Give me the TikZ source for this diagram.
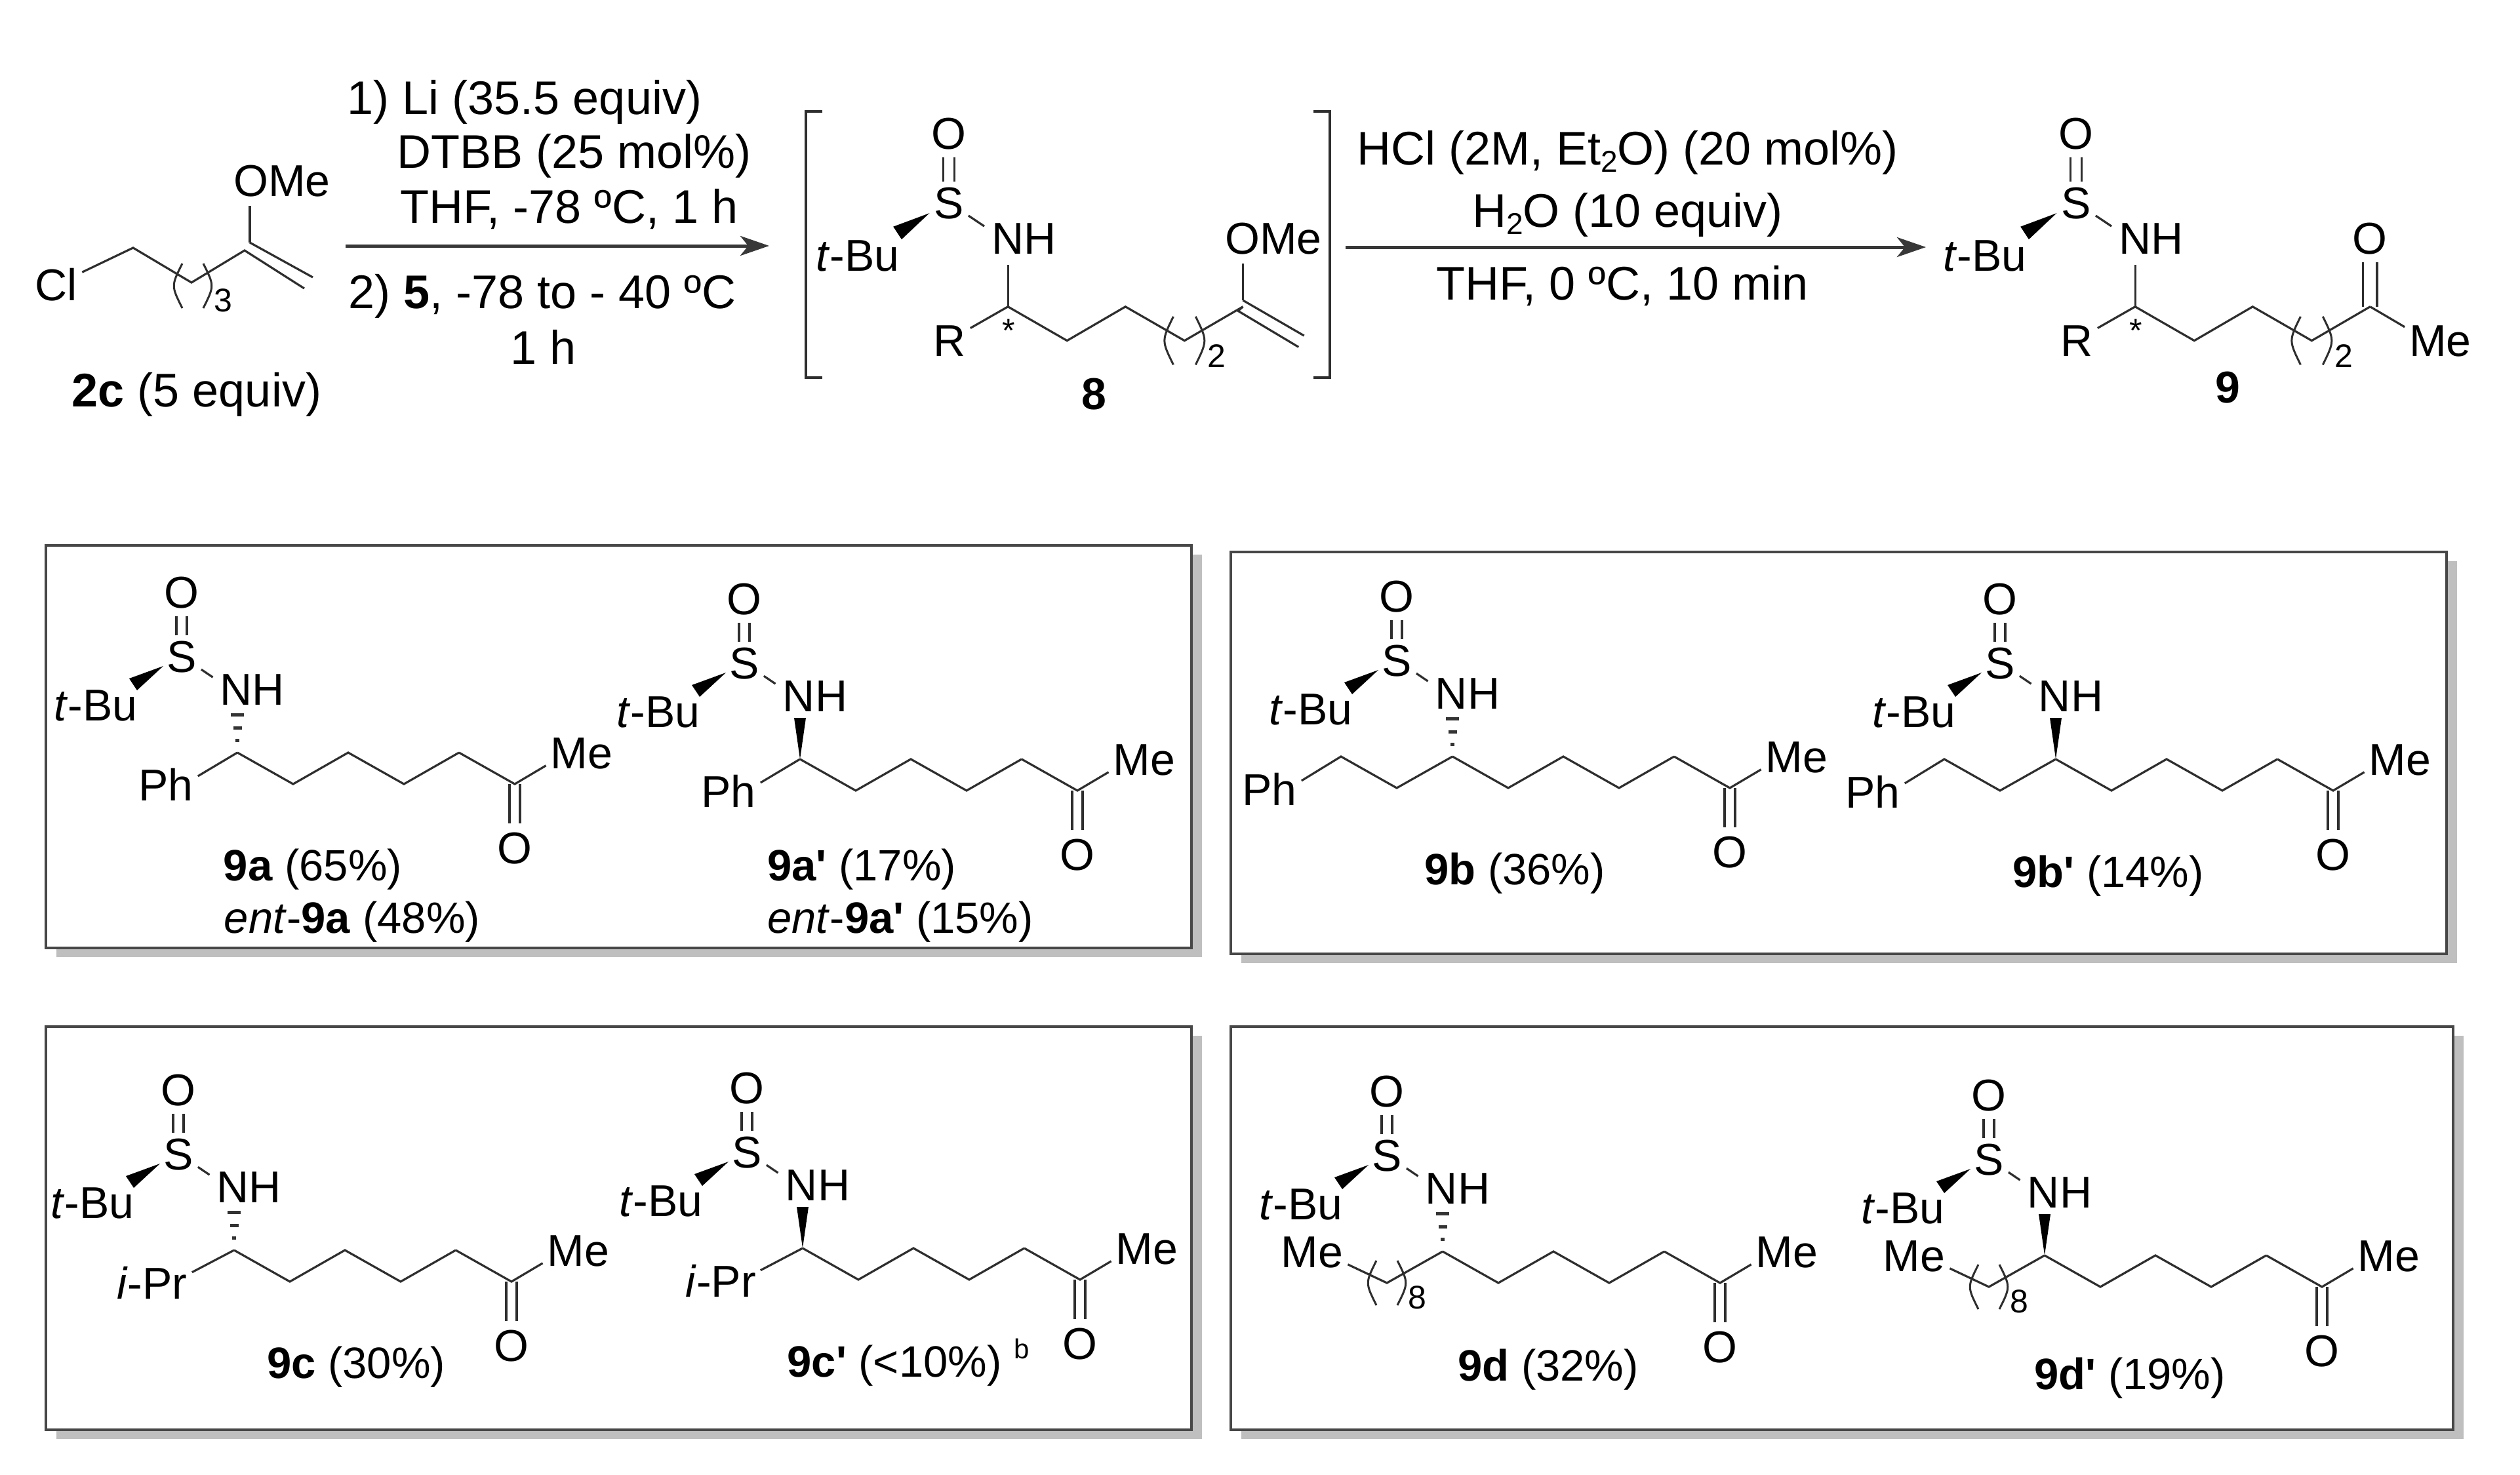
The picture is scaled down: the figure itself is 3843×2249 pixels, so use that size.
\documentclass[tikz,border=0pt]{standalone}
\usepackage{fontspec}
\setmainfont{Liberation Sans}[Ligatures=TeXOff]
\usetikzlibrary{arrows.meta}
\tikzset{
  atom/.style={inner sep=7pt,text height=49pt,text depth=0pt,text=black,font=\fontsize{68}{80}\selectfont},
  oxy/.style={atom,inner sep=12pt},
  reagent/.style={inner sep=0pt,text height=51pt,text depth=0pt,text=black,font=\fontsize{72}{80}\selectfont},
  yieldlab/.style={inner sep=0pt,text height=48pt,text depth=0pt,text=black,font=\fontsize{67}{80}\selectfont},
  subnum/.style={inner sep=0pt,text=black,font=\fontsize{50}{50}\selectfont},
  bond/.style={draw=black!82,line width=3.2pt},
  thin bond/.style={draw=black!82,line width=3pt},
  hashline/.style={draw=black!80,line width=5pt},
  rxn/.style={draw=black!78,line width=5pt,-{Stealth[length=44pt,width=30pt,inset=12pt]}},
  frame/.style={draw=black!72,line width=4.5pt,fill=white},
  frameshadow/.style={fill=black!25}
}
\newcommand{\lowtwo}{\raisebox{-11pt}{\fontsize{46}{50}\selectfont 2}}
\newcommand{\panelframe}[2]{
  \fill[frameshadow] ([shift={(16pt,-14pt)}]#1) rectangle ([shift={(16pt,-14pt)}]#2);
  \draw[frame] (#1) rectangle (#2);
}
% ( )n around a chain vertex
\newcommand{\repeatunit}[2]{
  \begin{scope}[shift={(#1)}]
    \draw[thin bond] (-16,-34) .. controls (-33,0) .. (-16,34);
    \draw[thin bond] (16,-34) .. controls (33,0) .. (16,34);
    \node[subnum] (nsub) at (46,22) {#2};
  \end{scope}
}
% sulfinamide head and the four chain carbons
\newcommand{\sulfhead}{
  \node[atom] (S) at (0,0) {S};
  \node[oxy] (Ox) at (0,-98) {O};
  \node[atom] (tBu) at (-131,74) {\textit{t}-Bu};
  \node[atom] (NH) at (108,50) {NH};
  \coordinate (c0) at (85,147);
  \coordinate (c1) at (170,195);
  \coordinate (c2) at (254,147);
  \coordinate (c3) at (339,195);
  \coordinate (c4) at (423,147);
  \foreach \dx in {-8,8}
    \draw[bond] ([xshift=\dx pt]S.north) -- ([xshift=\dx pt]Ox.south);
  \draw[bond,shorten >=5pt] (S) -- (NH.165);
  \fill[black] (-28,15) -- (-80,34) -- (-68,52) -- cycle;
  \draw[bond] (c0) -- (c1) -- (c2) -- (c3) -- (c4);
}
\newcommand{\hashbond}{
  \foreach \yy/\w in {89/10,109/6.5,128/3}
    \draw[hashline] (85-\w,\yy) -- (85+\w,\yy);
}
\newcommand{\wedgebond}{\fill[black] (c0) -- (76,84) -- (94,84) -- cycle;}
\newcommand{\panelmol}[4]{
  \begin{scope}[shift={(#2)},name prefix=#1-]
    \sulfhead
    \node[atom] (Me) at (610,147) {Me};
    \node[oxy] (Ok) at (508,292) {O};
    \coordinate (c5) at (508,195);
    \draw[bond] (c4) -- (c5) -- (Me.200);
    \foreach \dx in {-8,8}
      \draw[bond] ([xshift=\dx pt]c5) -- ([xshift=\dx pt]Ok.north);
    #3
    #4
  \end{scope}
}
\newcommand{\sidePh}{
  \node[atom] (Ph) at (-24,196) {Ph};
  \draw[bond] (c0) -- (Ph.15);
}
\newcommand{\sideBn}{
  \node[atom] (Ph) at (-194,197) {Ph};
  \coordinate (b1) at (0,195);
  \coordinate (b2) at (-85,147);
  \draw[bond] (c0) -- (b1) -- (b2) -- (Ph.15);
}
\newcommand{\sideiPr}{
  \node[atom] (iPr) at (-40,197) {\textit{i}-Pr};
  \draw[bond] (c0) -- (iPr.15);
}
\newcommand{\sideAlk}{
  \node[atom] (Mel) at (-114,147) {Me};
  \coordinate (b1) at (0,195);
  \draw[bond] (c0) -- (b1) -- (Mel.-20);
  \repeatunit{0,195}{8}
}
\begin{document}
\begin{tikzpicture}[x=1pt,y=-1pt]
\useasboundingbox (0,0) rectangle (3843,2249);
\fill[white] (0,0) rectangle (3843,2249);

% chloride 2c
\node[atom] (Cl) at (86,434) {Cl};
\node[atom] (OMea) at (430,275) {OMe};
\coordinate (ca) at (203,378);
\coordinate (cb) at (292,431);
\coordinate (cc) at (373,382);
\coordinate (cd) at (381,370);
\coordinate (ce) at (477,423);
\coordinate (cf) at (464,440);
\draw[bond] (Cl) -- (ca) -- (cb) -- (cc) -- (cf);
\draw[bond] (cd) -- (ce);
\draw[bond,shorten >=7pt] (cd) -- (cd |- OMea.south);
\repeatunit{294,436}{3}
\node[reagent] (lab2c) at (300,595) {\textbf{2c} (5 equiv)};

% first arrow
\coordinate (arra) at (527,375);
\coordinate (arrb) at (1173,375);
\draw[rxn] (arra) -- (arrb);
\node[reagent] (ra) at (800,149) {1) Li (35.5 equiv)};
\node[reagent] (rb) at (876,231) {DTBB (25 mol\%)};
\node[reagent] (rc) at (868,315) {THF, -78 ºC, 1 h};
\node[reagent] (rd) at (827,445) {2) \textbf{5}, -78 to - 40 ºC};
\node[reagent] (re) at (829,530) {1 h};

% intermediate 8
\draw[bond,line width=4pt] (1254,170) -- (1229,170) -- (1229,576) -- (1254,576);
\draw[bond,line width=4pt] (2003,170) -- (2028,170) -- (2028,576) -- (2003,576);
\begin{scope}[shift={(1447,309)},xscale=1.06,yscale=1.08,name prefix=eight-]
  \sulfhead
  \draw[bond,shorten >=9pt] (c0) -- (c0 |- NH.south);
  \node[atom] (R) at (1,194) {R};
  \draw[bond] (c0) -- (R);
  \node[subnum] (star) at (86,181) {*};
  \node[atom] (OMe) at (467,50) {OMe};
  \coordinate (cu) at (423,138);
  \coordinate (cl) at (416,153);
  \coordinate (vu) at (511,188);
  \coordinate (vl) at (503,204);
  \draw[bond] (cu) -- (vu);
  \draw[bond] (c4) -- (cl) -- (vl);
  \draw[bond,shorten >=7pt] (cu) -- (cu |- OMe.south);
  \repeatunit{339,195}{2}
\end{scope}
\node[yieldlab,font=\bfseries\fontsize{68}{80}\selectfont] (lab8) at (1668,600) {8};

% second arrow
\coordinate (arrc) at (2052,377);
\coordinate (arrd) at (2937,377);
\draw[rxn] (arrc) -- (arrd);
\node[reagent] (rf) at (2482,226) {HCl (2M, Et\lowtwo O) (20 mol\%)};
\node[reagent] (rg) at (2482,321) {H\lowtwo O (10 equiv)};
\node[reagent] (rh) at (2474,432) {THF, 0 ºC, 10 min};

% product 9
\begin{scope}[shift={(3166,309)},xscale=1.06,yscale=1.08,name prefix=nine-]
  \sulfhead
  \draw[bond,shorten >=9pt] (c0) -- (c0 |- NH.south);
  \node[atom] (R) at (1,194) {R};
  \draw[bond] (c0) -- (R);
  \node[subnum] (star) at (86,181) {*};
  \node[atom] (Me) at (524,194) {Me};
  \node[oxy] (Ok) at (423,50) {O};
  \draw[bond] (c4) -- (Me.160);
  \foreach \dx in {-10,10}
    \draw[bond] ([xshift=\dx pt]c4) -- ([xshift=\dx pt]Ok.south);
  \repeatunit{339,195}{2}
\end{scope}
\node[yieldlab,font=\bfseries\fontsize{68}{80}\selectfont] (lab9) at (3397,590) {9};

% panels
\panelframe{70,832}{1817,1446}
\panelframe{1877,842}{3731,1455}
\panelframe{70,1566}{1817,2181}
\panelframe{1877,1566}{3741,2181}

\panelmol{pa}{277,1001}{\hashbond}{\sidePh}
\panelmol{paa}{1135,1011}{\wedgebond}{\sidePh}
\panelmol{pb}{2130,1007}{\hashbond}{\sideBn}
\panelmol{pbb}{3050,1011}{\wedgebond}{\sideBn}
\panelmol{pc}{272,1760}{\hashbond}{\sideiPr}
\panelmol{pcc}{1139,1757}{\wedgebond}{\sideiPr}
\panelmol{pd}{2115,1762}{\hashbond}{\sideAlk}
\panelmol{pdd}{3033,1768}{\wedgebond}{\sideAlk}

\node[yieldlab] (laba) at (477,1319) {\textbf{9a} (65\%)};
\node[yieldlab] (labae) at (537,1399) {\textit{ent}-\textbf{9a} (48\%)};
\node[yieldlab] (labaa) at (1314,1319) {\textbf{9a'} (17\%)};
\node[yieldlab] (labaae) at (1373,1399) {\textit{ent}-\textbf{9a'} (15\%)};
\node[yieldlab] (labb) at (2310,1325) {\textbf{9b} (36\%)};
\node[yieldlab] (labbb) at (3215,1329) {\textbf{9b'} (14\%)};
\node[yieldlab] (labc) at (543,2078) {\textbf{9c} (30\%)};
\node[yieldlab] (labcc) at (1385,2076) {\textbf{9c'} (<10\%) \raisebox{28pt}{\fontsize{42}{46}\selectfont b}};
\node[yieldlab] (labd) at (2361,2082) {\textbf{9d} (32\%)};
\node[yieldlab] (labdd) at (3248,2095) {\textbf{9d'} (19\%)};
\end{tikzpicture}
\end{document}
